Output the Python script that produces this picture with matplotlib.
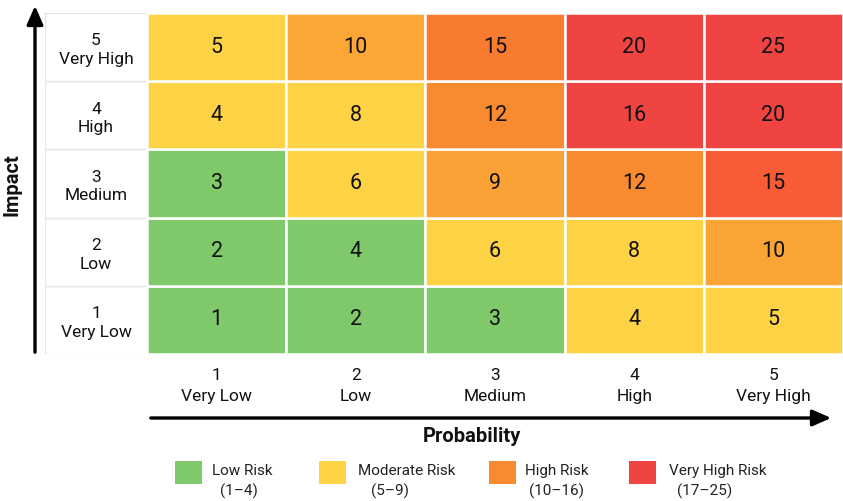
import matplotlib
matplotlib.use("Agg")
import matplotlib.pyplot as plt
from matplotlib.patches import Rectangle, FancyArrowPatch

# -------------------------------------------------
# DATA
# -------------------------------------------------
impact_levels = [1, 2, 3, 4, 5]
impact_names = ["Very Low", "Low", "Medium", "High", "Very High"]
probability_levels = [1, 2, 3, 4, 5]
probability_names = ["Very Low", "Low", "Medium", "High", "Very High"]

legend_labels = ["Low Risk", "Moderate Risk", "High Risk", "Very High Risk"]
legend_ranges = ["(1–4)", "(5–9)", "(10–16)", "(17–25)"]

# -------------------------------------------------
# STYLE
# -------------------------------------------------
GREEN = "#80c96a"
YELLOW = "#fdd245"
ORANGE = "#f88b30"
RED = "#ef4442"
legend_colors = [GREEN, YELLOW, ORANGE, RED]

# shade per cell, rows from impact 1 (bottom) to 5 (top)
cell_colors = [
    [GREEN, GREEN, GREEN, YELLOW, YELLOW],
    [GREEN, GREEN, YELLOW, YELLOW, "#fba436"],
    [GREEN, YELLOW, "#faa236", "#f88a30", "#f75c37"],
    [YELLOW, YELLOW, "#f88a30", RED, RED],
    [YELLOW, "#fca636", "#f97b2f", RED, RED],
]

plt.rcParams["font.family"] = ["Roboto", "DejaVu Sans"]
TXT = "#111111"

W, H = 843, 501
fig = plt.figure(figsize=(W / 100, H / 100), dpi=100)

# label column (102 px) + 5 cells of ~139 px
left_px, right_px, top_px, bot_px = 45, 843, 13, 354
label_w = 102 / ((right_px - 147) / 5)
ax = fig.add_axes([left_px / W, 1 - bot_px / H,
                   (right_px - left_px) / W, (bot_px - top_px) / H])
ax.set_xlim(-label_w, 5)
ax.set_ylim(0, 5)
ax.axis("off")

# -------------------------------------------------
# MATRIX
# -------------------------------------------------
for i, imp in enumerate(impact_levels):
    for j, prob in enumerate(probability_levels):
        ax.add_patch(Rectangle((j, i), 1, 1, facecolor=cell_colors[i][j],
                               edgecolor="white", linewidth=1.8))
        ax.text(j + 0.5, i + 0.5, str(imp * prob), ha="center", va="center",
                fontsize=15.5, color=TXT)

# impact labels in the left column
for i, (lvl, name) in enumerate(zip(impact_levels, impact_names)):
    ax.add_patch(Rectangle((-label_w, i), label_w, 1, facecolor="white",
                           edgecolor="#e6e6e6", linewidth=1.0, zorder=0))
    ax.annotate(str(lvl), (-label_w / 2, i + 0.5), xytext=(0, 4.5),
                textcoords="offset points", ha="center", va="center",
                fontsize=12.5, color=TXT)
    ax.annotate(name, (-label_w / 2, i + 0.5), xytext=(0, -9),
                textcoords="offset points", ha="center", va="center",
                fontsize=12.5, color=TXT)

# probability labels below the matrix
for j, (lvl, name) in enumerate(zip(probability_levels, probability_names)):
    ax.annotate(str(lvl), (j + 0.5, 0), xytext=(0, -15.5),
                textcoords="offset points", ha="center", va="center",
                fontsize=12.5, color=TXT)
    ax.annotate(name, (j + 0.5, 0), xytext=(0, -30.5),
                textcoords="offset points", ha="center", va="center",
                fontsize=12.5, color=TXT)

# -------------------------------------------------
# AXIS ARROWS + TITLES
# -------------------------------------------------
arrow_kw = dict(arrowstyle="-|>,head_width=0.35,head_length=0.8",
                color="black", lw=2.4, mutation_scale=14,
                transform=fig.transFigure)
fig.add_artist(FancyArrowPatch((35 / W, 1 - 355 / H), (35 / W, 1 - 3 / H),
                               **arrow_kw))
fig.add_artist(FancyArrowPatch((148 / W, 1 - 418 / H), (834 / W, 1 - 418 / H),
                               **arrow_kw))

fig.text(12 / W, 1 - 185 / H, "Impact", rotation=90, ha="center", va="center",
         fontsize=14.5, fontweight="bold", color=TXT)
fig.text(472 / W, 1 - 437 / H, "Probability", ha="center", va="center",
         fontsize=14.5, fontweight="bold", color=TXT)

# -------------------------------------------------
# LEGEND (swatch + two-line caption)
# -------------------------------------------------
lax = fig.add_axes([0, 0, 1, 1], zorder=-1)
lax.set_xlim(0, W)
lax.set_ylim(H, 0)
lax.axis("off")
swatch_x = [175, 319, 489, 629]
name_x = [212, 358, 525, 669]
range_cx = [239, 390, 556, 705]
for x0, nx, rx, c, name, rng in zip(swatch_x, name_x, range_cx, legend_colors,
                                    legend_labels, legend_ranges):
    lax.add_patch(Rectangle((x0, 461), 27, 23, facecolor=c, edgecolor="none"))
    lax.text(nx, 471, name, ha="left", va="center", fontsize=11, color="#222222")
    lax.text(rx, 491, rng, ha="center", va="center", fontsize=11, color="#222222")

fig.savefig("out.png", dpi=100)
